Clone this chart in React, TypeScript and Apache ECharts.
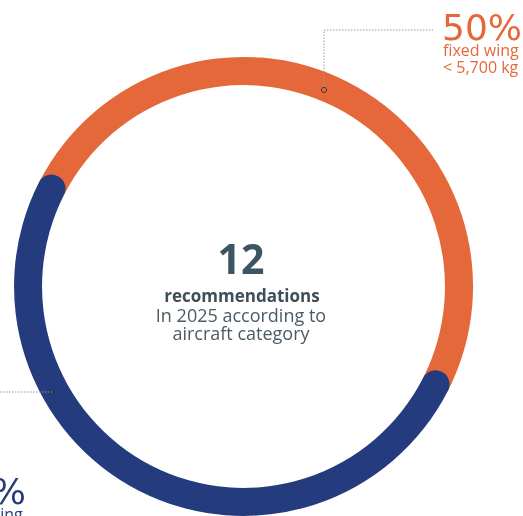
import React, { useEffect, useRef } from 'react';
import * as echarts from 'echarts';

const categories = ['fixed wing\n< 5,700 kg', 'fixed wing\n> 5,700 kg'];
const shares = [50, 50];
const colors = ['#E5683A', '#243B7E'];
const totalRecommendations = 12;
const centerTitle = 'recommendations';
const centerSubtitle = ['In 2025 according to', 'aircraft category'];

export default function App() {
  const ref = useRef<HTMLDivElement>(null);
  useEffect(() => {
    const chart = echarts.init(ref.current!, null, { renderer: 'svg' });
    const cx = 243.5;
    const cy = 286.5;
    const pctFont = 'DejaVu Sans';
    const bodyFont = 'Open Sans';
    const dotted = { stroke: '#9a9a9a', lineWidth: 1, lineDash: [1.5, 1.5] };
    const dotStyle = { fill: 'none', stroke: '#333333', lineWidth: 1 };

    const labelBlock = (i: number, x: number, y: number) => [
      {
        type: 'text', x, y, z: 10,
        style: { text: `${shares[i]}%`, fill: colors[i], fontSize: 36, lineHeight: 26, fontFamily: pctFont, align: 'left', verticalAlign: 'middle' },
      },
      {
        type: 'text', x: x + 1, y: y + 14, z: 10,
        style: { text: categories[i], fill: colors[i], fontSize: 16, lineHeight: 17, fontFamily: bodyFont, align: 'left', verticalAlign: 'top' },
      },
    ];

    const graphic: any[] = [
      { type: 'polyline', shape: { points: [[324, 90], [324, 30], [433, 30]] }, style: { ...dotted, fill: null }, z: 5 },
      { type: 'circle', shape: { cx: 324, cy: 90, r: 2.5 }, style: dotStyle, z: 6 },
      { type: 'polyline', shape: { points: [[0, 392], [52, 392]] }, style: { ...dotted, fill: null }, z: 5 },
      { type: 'circle', shape: { cx: 52, cy: 392, r: 2.5 }, style: dotStyle, z: 6 },
      ...labelBlock(0, 442, 27),
      ...labelBlock(1, -54, 491),
      {
        type: 'text', x: 241, y: 258, z: 10,
        style: { text: String(totalRecommendations), fill: '#3B5562', fontSize: 41, lineHeight: 32, fontWeight: 'bold', fontFamily: bodyFont, align: 'center', verticalAlign: 'middle' },
      },
      {
        type: 'text', x: 242, y: 295, z: 10,
        style: { text: centerTitle, fill: '#3F4F5A', fontSize: 17, lineHeight: 16, fontWeight: 'bold', fontFamily: bodyFont, align: 'center', verticalAlign: 'middle' },
      },
      {
        type: 'text', x: 241, y: 306, z: 10,
        style: { text: centerSubtitle.join('\n'), fill: '#4B5B65', fontSize: 18, lineHeight: 18, fontFamily: bodyFont, align: 'center', verticalAlign: 'top' },
      },
    ];

    const option: any = {
      animation: false,
      polar: { center: [cx, cy], radius: [201.5, 229.5] },
      angleAxis: { type: 'value', min: 0, max: 100, startAngle: 153, clockwise: true, show: false },
      radiusAxis: { type: 'category', data: ['share'], show: false },
      series: categories.map((c, i) => ({
        type: 'bar',
        coordinateSystem: 'polar',
        name: c,
        stack: 'total',
        data: [shares[i]],
        barWidth: '100%',
        roundCap: i === 1,
        silent: true,
        itemStyle: { color: colors[i] },
        z: 2 + i,
      })),
      graphic,
    };
    chart.setOption(option);
    return () => chart.dispose();
  }, []);
  return <div ref={ref} style={{ position: 'fixed', left: 0, top: 0, width: 523, height: 516 }} />;
}
